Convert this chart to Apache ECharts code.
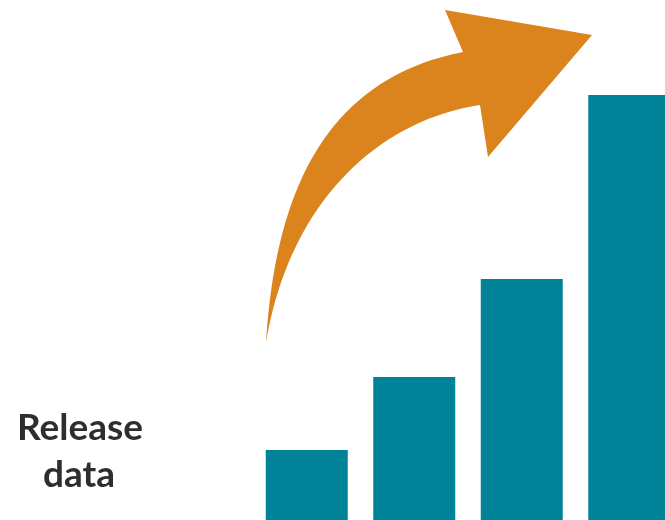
<!DOCTYPE html>
<html><head><meta charset="utf-8">
<script src="https://cdn.jsdelivr.net/npm/echarts@6/dist/echarts.min.js"></script>
<style>html,body{margin:0;padding:0;background:#fff}#c{width:665px;height:520px}</style>
</head><body><div id="c"></div>
<script>
const categories = ['1', '2', '3', '4'];
const values = [70, 143, 241, 425];
const labelLines = ['Release', 'data'];

function cubic(p0, p1, p2, p3, n) {
  const pts = [];
  for (let i = 0; i <= n; i++) {
    const t = i / n, u = 1 - t;
    pts.push([
      u*u*u*p0[0] + 3*u*u*t*p1[0] + 3*u*t*t*p2[0] + t*t*t*p3[0],
      u*u*u*p0[1] + 3*u*u*t*p1[1] + 3*u*t*t*p2[1] + t*t*t*p3[1]
    ]);
  }
  return pts;
}
const arrowPts = [].concat(
  cubic([266,342],[275,200],[320,80],[463,52], 40),
  [[445,10],[592,35],[488,157]],
  cubic([480,105],[380,120],[290,200],[266,342], 40)
);

const chart = echarts.init(document.getElementById('c'), null, {renderer: 'canvas'});
chart.setOption({
  animation: false,
  grid: {left: 253, width: 430, top: 0, bottom: 0, outerBoundsMode: 'none', containLabel: false},
  xAxis: {type: 'category', data: categories, show: false},
  yAxis: {type: 'value', min: 0, max: 520, show: false},
  series: [{
    type: 'bar', data: values, barWidth: 82,
    itemStyle: {color: '#008398'}
  }],
  graphic: [
    {type: 'polygon', shape: {points: arrowPts}, style: {fill: '#db831c'}},
    {type: 'text', x: 80, y: 447, style: {text: labelLines[0], font: 'bold 37px Lato', fill: '#2e2e2e', textAlign: 'center', textVerticalAlign: 'bottom'}},
    {type: 'text', x: 79, y: 494, style: {text: labelLines[1], font: 'bold 37px Lato', fill: '#2e2e2e', textAlign: 'center', textVerticalAlign: 'bottom'}}
  ]
});
</script></body></html>
